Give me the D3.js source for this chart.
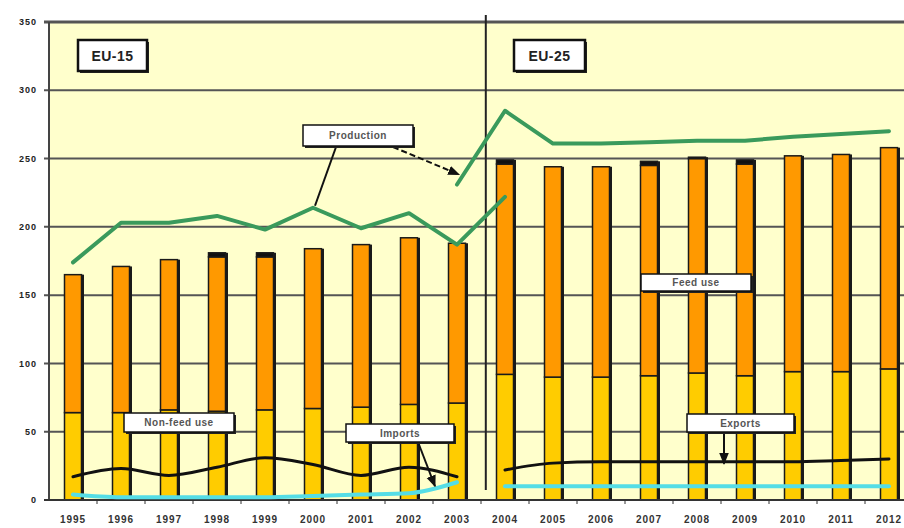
<!DOCTYPE html>
<html>
<head>
<meta charset="utf-8">
<script src="https://cdn.jsdelivr.net/npm/d3@7/dist/d3.min.js"></script>
<style>
  html, body { margin: 0; padding: 0; background: #ffffff; }
  svg { display: block; font-family: "Liberation Sans", Arial, sans-serif; }
</style>
</head>
<body>
<svg id="chart" width="904" height="528"></svg>
<script>
// Marketing years
const years = ['1995','1996','1997','1998','1999','2000','2001','2002','2003',
               '2004','2005','2006','2007','2008','2009','2010','2011','2012'];

// Domestic use, stacked bars (million t)
const nonFeedUse = [64, 64, 66, 65, 66, 67, 68, 70, 71, 92, 90, 90, 91, 93, 91, 94, 94, 96];
const feedUse    = [101, 107, 110, 113, 112, 117, 119, 122, 117, 154, 154, 154, 154, 157, 155, 158, 159, 162];
const otherUse   = [0, 0, 0, 3, 3, 0, 0, 0, 0, 3, 0, 0, 3, 1, 3, 0, 0, 0];

// Production lines, EU-15 runs 1995-2004, EU-25 runs 2003-2012
const productionEU15Years = years.slice(0, 10);
const productionEU15 = [174, 203, 203, 208, 198, 214, 199, 210, 187, 222];
const productionEU25Years = years.slice(8);
const productionEU25 = [231, 285, 261, 261, 262, 263, 263, 266, 268, 270];

// Trade lines
const tradeEU15Years = years.slice(0, 9);
const tradeEU25Years = years.slice(9);
const exportsEU15 = [17, 23, 18, 24, 31, 26, 18, 24, 17];
const exportsEU25 = [22, 27, 28, 28, 28, 28, 28, 29, 30];
const importsEU15 = [4, 2, 2, 2, 2, 3, 4, 5, 13];
const importsEU25 = [10, 10, 10, 10, 10, 10, 10, 10, 10];

const yTicks = [0, 50, 100, 150, 200, 250, 300, 350];

const svg = d3.select('#chart');
const plotLeft = 49, plotTop = 22, plotBottom = 500;
const step = 48;

const x = d3.scaleBand().domain(years).range([plotLeft, plotLeft + step * years.length]).padding(0);
const y = d3.scaleLinear().domain([0, 350]).range([plotBottom, plotTop]);
const cx = d => x(d) + x.bandwidth() / 2;

// Plot background
svg.append('rect')
  .attr('x', plotLeft).attr('y', plotTop)
  .attr('width', 904 - plotLeft).attr('height', plotBottom - plotTop)
  .attr('fill', '#ffffcc');

// Horizontal gridlines with small outer ticks
svg.append('g').selectAll('line')
  .data(yTicks.filter(t => t > 0))
  .join('line')
  .attr('x1', plotLeft - 5).attr('x2', 904)
  .attr('y1', d => y(d)).attr('y2', d => y(d))
  .attr('stroke', '#555')
  .attr('stroke-width', d => d === 350 ? 3 : 2);

// Y tick labels
svg.append('g').selectAll('text')
  .data(yTicks)
  .join('text')
  .attr('x', 37).attr('y', d => y(d))
  .attr('dy', '0.35em')
  .attr('text-anchor', 'end')
  .attr('font-size', 9).attr('font-weight', 'bold')
  .attr('letter-spacing', 1)
  .attr('fill', '#222')
  .text(d => d);

// Stacked bars
const rows = years.map((yr, i) => ({ year: yr, nonFeed: nonFeedUse[i], feed: feedUse[i], other: otherUse[i] }));
const stack = d3.stack().keys(['nonFeed', 'feed', 'other'])(rows);
const colors = { nonFeed: '#ffcc00', feed: '#ff9900', other: '#111111' };
const barW = 17;

// dark right-hand edge of every bar
svg.append('g').selectAll('rect')
  .data(rows)
  .join('rect')
  .attr('x', d => cx(d.year) - barW / 2 + 2.5)
  .attr('y', d => y(d.nonFeed + d.feed + d.other))
  .attr('width', barW)
  .attr('height', d => plotBottom - y(d.nonFeed + d.feed + d.other))
  .attr('fill', '#1a1a1a');

svg.append('g').selectAll('g')
  .data(stack)
  .join('g')
  .attr('fill', s => colors[s.key])
  .selectAll('rect')
  .data(s => s.filter(p => p[1] > p[0]))
  .join('rect')
  .attr('x', p => cx(p.data.year) - barW / 2)
  .attr('y', p => y(p[1]))
  .attr('width', barW)
  .attr('height', p => y(p[0]) - y(p[1]))
  .attr('stroke', '#1a1a1a')
  .attr('stroke-width', 1.5);

// Y axis line and baseline
svg.append('line')
  .attr('x1', plotLeft).attr('x2', plotLeft).attr('y1', plotTop).attr('y2', plotBottom)
  .attr('stroke', '#444').attr('stroke-width', 2);
svg.append('line')
  .attr('x1', plotLeft - 5).attr('x2', 904).attr('y1', plotBottom).attr('y2', plotBottom)
  .attr('stroke', '#333').attr('stroke-width', 2);

// X ticks at category boundaries and year labels
svg.append('g').selectAll('line')
  .data(years.slice(1))
  .join('line')
  .attr('x1', d => x(d)).attr('x2', d => x(d))
  .attr('y1', plotBottom).attr('y2', plotBottom + 4)
  .attr('stroke', '#333').attr('stroke-width', 1);

svg.append('g').selectAll('text')
  .data(years)
  .join('text')
  .attr('x', d => cx(d)).attr('y', 523)
  .attr('text-anchor', 'middle')
  .attr('font-size', 10).attr('font-weight', 'bold')
  .attr('letter-spacing', 1)
  .attr('fill', '#333')
  .text(d => d);

// EU-15 / EU-25 divider
const divX = x('2004') + step * 0.1;
svg.append('line')
  .attr('x1', divX).attr('x2', divX).attr('y1', 15).attr('y2', 490)
  .attr('stroke', '#222').attr('stroke-width', 2);

// Lines
function drawSeries(xs, vals, color, width, curve) {
  const line = d3.line().curve(curve);
  svg.append('path')
    .attr('d', line(xs.map((yr, i) => [cx(yr), y(vals[i])])))
    .attr('fill', 'none')
    .attr('stroke', color)
    .attr('stroke-width', width)
    .attr('stroke-linejoin', 'round')
    .attr('stroke-linecap', 'round');
}
drawSeries(tradeEU15Years, importsEU15, '#55dde6', 4, d3.curveMonotoneX);
drawSeries(tradeEU25Years, importsEU25, '#55dde6', 4, d3.curveLinear);
drawSeries(tradeEU15Years, exportsEU15, '#111', 3, d3.curveMonotoneX);
drawSeries(tradeEU25Years, exportsEU25, '#111', 3, d3.curveMonotoneX);
drawSeries(productionEU15Years, productionEU15, '#3a9a5c', 4, d3.curveLinear);
drawSeries(productionEU25Years, productionEU25, '#3a9a5c', 4, d3.curveLinear);

// Annotation boxes
svg.append('defs').append('marker')
  .attr('id', 'arrow').attr('viewBox', '0 0 10 10')
  .attr('refX', 9).attr('refY', 5)
  .attr('markerWidth', 6).attr('markerHeight', 6)
  .attr('orient', 'auto')
  .append('path').attr('d', 'M0,1 L10,5 L0,9 Z').attr('fill', '#111');

function pointer(x1, y1, x2, y2, dashed, arrow) {
  svg.append('line')
    .attr('x1', x1).attr('y1', y1).attr('x2', x2).attr('y2', y2)
    .attr('stroke', '#111').attr('stroke-width', 2)
    .attr('stroke-dasharray', dashed ? '6,3' : null)
    .attr('marker-end', arrow ? 'url(#arrow)' : null);
}

function box(x0, y0, w, h, text, opts) {
  const g = svg.append('g');
  g.append('rect').attr('x', x0 + 2).attr('y', y0 + 2).attr('width', w).attr('height', h).attr('fill', '#222');
  g.append('rect').attr('x', x0).attr('y', y0).attr('width', w).attr('height', h)
    .attr('fill', '#fff').attr('stroke', '#111').attr('stroke-width', opts.border);
  g.append('text')
    .attr('x', x0 + w / 2).attr('y', y0 + h / 2).attr('dy', '0.36em')
    .attr('text-anchor', 'middle')
    .attr('font-size', opts.size).attr('font-weight', 'bold')
    .attr('letter-spacing', opts.spacing)
    .attr('fill', opts.color)
    .text(text);
}

// Production pointers
pointer(336, 147, cx('2000') + 2, y(productionEU15[5]) - 2, false, false);
pointer(393, 147, cx('2003') + 2, y(productionEU25[0]) - 10, true, true);
// Imports / Exports pointers
pointer(418, 442, cx('2003') - 22, y(importsEU15[8]) + 4, false, true);
pointer(724, 432, 724, y(exportsEU25[4]) + 2, false, true);

box(78, 40, 69, 31, 'EU-15', { border: 2.5, size: 14, spacing: 0.5, color: '#222' });
box(514, 40, 71, 31, 'EU-25', { border: 2.5, size: 14, spacing: 0.5, color: '#222' });
box(303, 125, 110, 21, 'Production', { border: 1.5, size: 10, spacing: 0.5, color: '#555' });
box(641, 274, 110, 17, 'Feed use', { border: 1.5, size: 10, spacing: 0.5, color: '#555' });
box(124, 413, 110, 19, 'Non-feed use', { border: 1.5, size: 10, spacing: 0.5, color: '#555' });
box(346, 424, 108, 18, 'Imports', { border: 1.5, size: 10, spacing: 0.5, color: '#555' });
box(687, 414, 107, 18, 'Exports', { border: 1.5, size: 10, spacing: 0.5, color: '#555' });
</script>
</body>
</html>
